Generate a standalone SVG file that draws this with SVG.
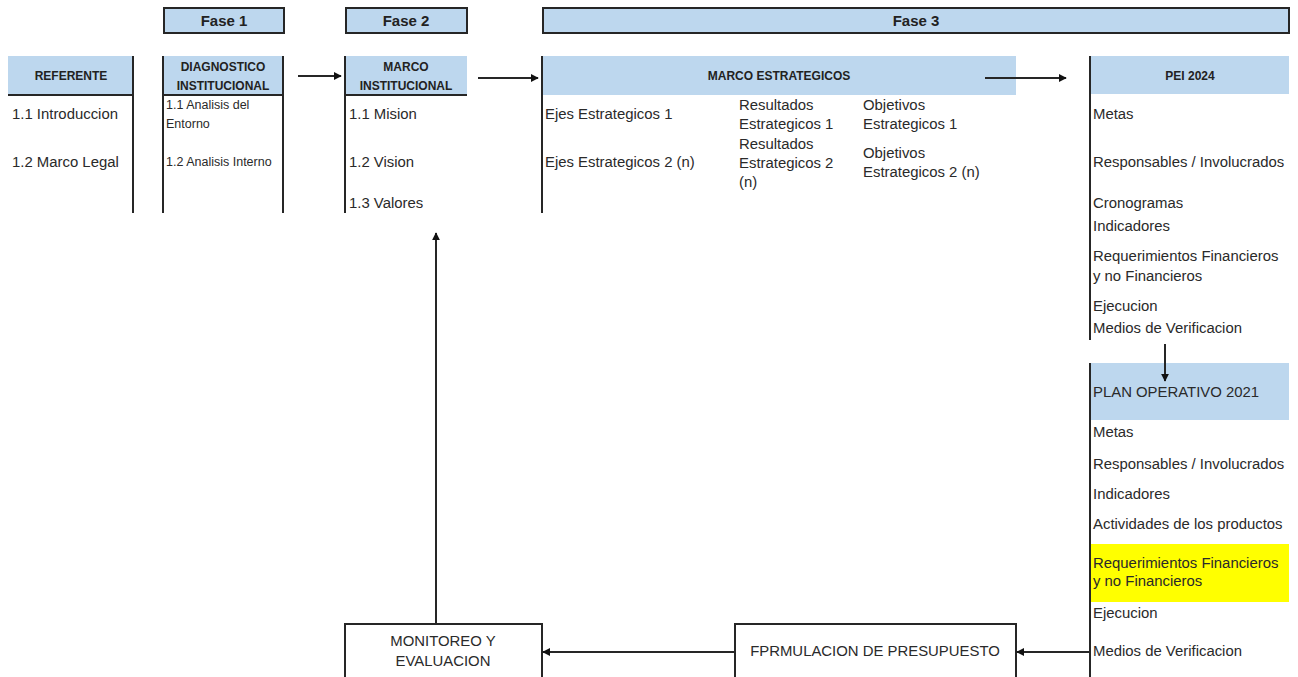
<svg xmlns="http://www.w3.org/2000/svg" width="1298" height="677" viewBox="0 0 1298 677">
<defs>
<style>
.hdr{fill:#BDD7EE}
.ln{stroke:#262626;stroke-width:2;fill:none}
.t{font-family:"Liberation Sans",Arial,sans-serif;font-size:14.9px;fill:#2a2a2a}
.ts{font-family:"Liberation Sans",Arial,sans-serif;font-size:12.5px;fill:#2a2a2a}
.hb{font-family:"Liberation Sans",Arial,sans-serif;font-size:12px;font-weight:bold;fill:#222;text-anchor:middle}
.fase{font-family:"Liberation Sans",Arial,sans-serif;font-size:15px;font-weight:bold;fill:#222;text-anchor:middle}
.c{text-anchor:middle}
</style>
<marker id="ah" viewBox="0 0 10 10" refX="9" refY="5" markerWidth="8" markerHeight="8" orient="auto-start-reverse" markerUnits="userSpaceOnUse">
<path d="M0,0 L10,5 L0,10 z" fill="#111"/>
</marker>
</defs>
<rect width="1298" height="677" fill="#fff"/>

<g id="fase1"><rect x="164" y="8" width="120" height="25" class="hdr" stroke="#262626" stroke-width="2"/><text x="224" y="26" class="fase">Fase 1</text></g>
<g id="fase2"><rect x="346" y="8" width="121" height="25" class="hdr" stroke="#262626" stroke-width="2"/><text x="406" y="26" class="fase">Fase 2</text></g>
<g id="fase3"><rect x="543" y="8" width="746" height="25" class="hdr" stroke="#262626" stroke-width="2"/><text x="916" y="26" class="fase">Fase 3</text></g>

<g id="referente">
<rect x="8" y="56" width="125" height="39" class="hdr"/>
<line x1="8" y1="95" x2="134" y2="95" class="ln"/>
<line x1="133" y1="56" x2="133" y2="213" class="ln"/>
<text x="71" y="80" class="hb">REFERENTE</text>
<text x="12" y="119" class="t">1.1 Introduccion</text>
<text x="12" y="167" class="t">1.2 Marco Legal</text>
</g>

<g id="diagnostico">
<rect x="163" y="56" width="120" height="39" class="hdr"/>
<line x1="163" y1="95" x2="284" y2="95" class="ln"/>
<line x1="163" y1="56" x2="163" y2="213" class="ln"/>
<line x1="283" y1="56" x2="283" y2="213" class="ln"/>
<text x="223" y="71" class="hb">DIAGNOSTICO</text>
<text x="223" y="90" class="hb">INSTITUCIONAL</text>
<text x="166" y="109" class="ts">1.1 Analisis del</text>
<text x="166" y="128" class="ts">Entorno</text>
<text x="166" y="166" class="ts">1.2 Analisis Interno</text>
</g>

<g id="marco-institucional">
<rect x="345" y="56" width="122" height="39" class="hdr"/>
<line x1="345" y1="95" x2="467" y2="95" class="ln"/>
<line x1="345" y1="56" x2="345" y2="213" class="ln"/>
<text x="406" y="71" class="hb">MARCO</text>
<text x="406" y="90" class="hb">INSTITUCIONAL</text>
<text x="349" y="119" class="t">1.1 Mision</text>
<text x="349" y="167" class="t">1.2 Vision</text>
<text x="349" y="208" class="t">1.3 Valores</text>
</g>

<g id="marco-estrategicos">
<rect x="542" y="56" width="474" height="39" class="hdr"/>
<line x1="542" y1="56" x2="542" y2="213" class="ln"/>
<text x="779" y="80" class="hb">MARCO ESTRATEGICOS</text>
<text x="545" y="119" class="t">Ejes Estrategicos 1</text>
<text x="545" y="167" class="t">Ejes Estrategicos 2 (n)</text>
<text x="739" y="110" class="t">Resultados</text>
<text x="739" y="129" class="t">Estrategicos 1</text>
<text x="739" y="149" class="t">Resultados</text>
<text x="739" y="168" class="t">Estrategicos 2</text>
<text x="739" y="187" class="t">(n)</text>
<text x="863" y="110" class="t">Objetivos</text>
<text x="863" y="129" class="t">Estrategicos 1</text>
<text x="863" y="158" class="t">Objetivos</text>
<text x="863" y="177" class="t">Estrategicos 2 (n)</text>
</g>

<g id="pei">
<rect x="1091" y="56" width="198" height="38" class="hdr"/>
<line x1="1090" y1="56" x2="1090" y2="340" class="ln"/>
<text x="1190" y="80" class="hb">PEI 2024</text>
<text x="1093" y="119" class="t">Metas</text>
<text x="1093" y="167" class="t">Responsables / Involucrados</text>
<text x="1093" y="208" class="t">Cronogramas</text>
<text x="1093" y="231" class="t">Indicadores</text>
<text x="1093" y="261" class="t">Requerimientos Financieros</text>
<text x="1093" y="281" class="t">y no Financieros</text>
<text x="1093" y="311" class="t">Ejecucion</text>
<text x="1093" y="333" class="t">Medios de Verificacion</text>
</g>

<g id="plan-operativo">
<rect x="1091" y="363" width="198" height="57" class="hdr"/>
<rect x="1091" y="544" width="198" height="58" fill="#FFFF00"/>
<line x1="1090" y1="363" x2="1090" y2="677" class="ln"/>
<text x="1093" y="397" class="t">PLAN OPERATIVO 2021</text>
<text x="1093" y="437" class="t">Metas</text>
<text x="1093" y="469" class="t">Responsables / Involucrados</text>
<text x="1093" y="499" class="t">Indicadores</text>
<text x="1093" y="529" class="t">Actividades de los productos</text>
<text x="1093" y="568" class="t">Requerimientos Financieros</text>
<text x="1093" y="586" class="t">y no Financieros</text>
<text x="1093" y="618" class="t">Ejecucion</text>
<text x="1093" y="656" class="t">Medios de Verificacion</text>
</g>

<g id="formulacion">
<path d="M735,677 V624 H1016 V677" class="ln"/>
<text x="875" y="656" class="t c">FPRMULACION DE PRESUPUESTO</text>
</g>

<g id="monitoreo">
<path d="M345,677 V624 H542 V677" class="ln"/>
<text x="443" y="646" class="t c">MONITOREO Y</text>
<text x="443" y="666" class="t c">EVALUACION</text>
</g>

<g id="connectors">
<line x1="298" y1="76" x2="341" y2="76" class="ln" marker-end="url(#ah)"/>
<line x1="478" y1="78" x2="538" y2="78" class="ln" marker-end="url(#ah)"/>
<line x1="985" y1="78" x2="1066" y2="78" class="ln" marker-end="url(#ah)"/>
<line x1="1165" y1="344" x2="1165" y2="381" class="ln" marker-end="url(#ah)"/>
<line x1="1090" y1="652" x2="1017" y2="652" class="ln" marker-end="url(#ah)"/>
<line x1="735" y1="652" x2="543" y2="652" class="ln" marker-end="url(#ah)"/>
<line x1="436" y1="624" x2="436" y2="233" class="ln" marker-end="url(#ah)"/>
</g>
</svg>
